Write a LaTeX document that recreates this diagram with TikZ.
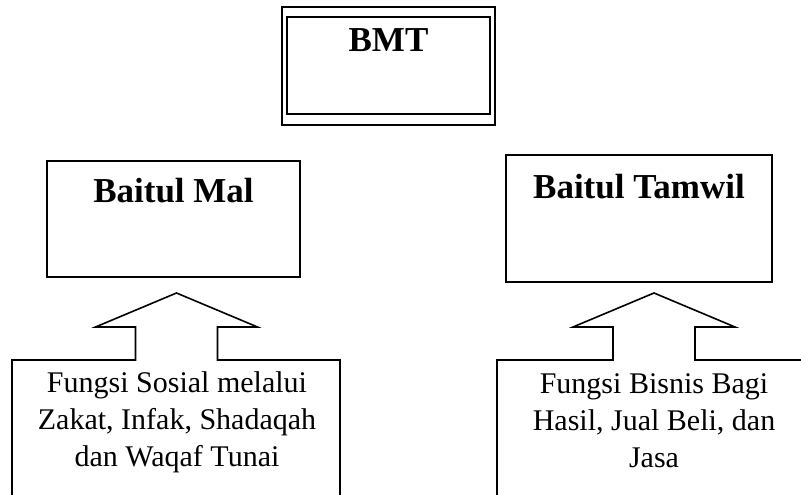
\documentclass[tikz,border=0pt]{standalone}
\usepackage{fontspec}
\setmainfont{Liberation Serif}
\begin{document}
\begin{tikzpicture}[x=1pt,y=-1pt,
        judul/.style={font=\fontsize{35}{40}\selectfont\bfseries},
        isi/.style={font=\fontsize{30}{37}\selectfont, align=center},
        kotak/.style={draw=black, line width=1.6pt, minimum width=#1},
        kotak/.default=10]
        \useasboundingbox (0,0) rectangle (801,495);
        \clip (0,0) rectangle (801,495);
        %% kotak BMT bergaris ganda di atas
        \node[draw=black, line width=1.3pt, minimum width=213, minimum height=118] (bmtluar) at (388.5,66) {};
        \node[draw=black, line width=2.6pt, minimum width=203, minimum height=97] (bmt) at (388.5,65.5) {};
        \node[judul] (bmtjudul) at (388.5,40) {BMT};
        %% dua kotak di tengah
        \node[kotak=253, minimum height=116] (mal) at (173.5,219) {};
        \node[judul] (maljudul) at (173.5,191) {Baitul Mal};
        \node[kotak=266, minimum height=127] (tamwil) at (639,218.5) {};
        \node[judul] (tamwiljudul) at (639,187) {Baitul Tamwil};
        %% panah ke atas menyatu dengan kotak fungsi (bawah terpotong)
        \foreach \cx/\kiri/\kanan/\nama in {176.5/12/340/sosial, 654/497/830/bisnis}
        {
            \coordinate (\nama ujung) at (\cx,293);
            \draw[line width=1.6pt, line join=miter]
            (\kiri,520) -- (\kiri,360) -- (\cx-41,360) -- (\cx-41,327) -- (\cx-81,327)
            -- (\nama ujung) -- (\cx+81,327) -- (\cx+41,327) -- (\cx+41,360)
            -- (\kanan,360) -- (\kanan,520);
        };
        \node[isi] (sosial) at (177,422) {Fungsi Sosial melalui\\Zakat, Infak, Shadaqah\\dan Waqaf Tunai};
        \node[isi] (bisnis) at (654,421) {Fungsi Bisnis Bagi\\Hasil, Jual Beli, dan\\Jasa};
\end{tikzpicture}
\end{document}
